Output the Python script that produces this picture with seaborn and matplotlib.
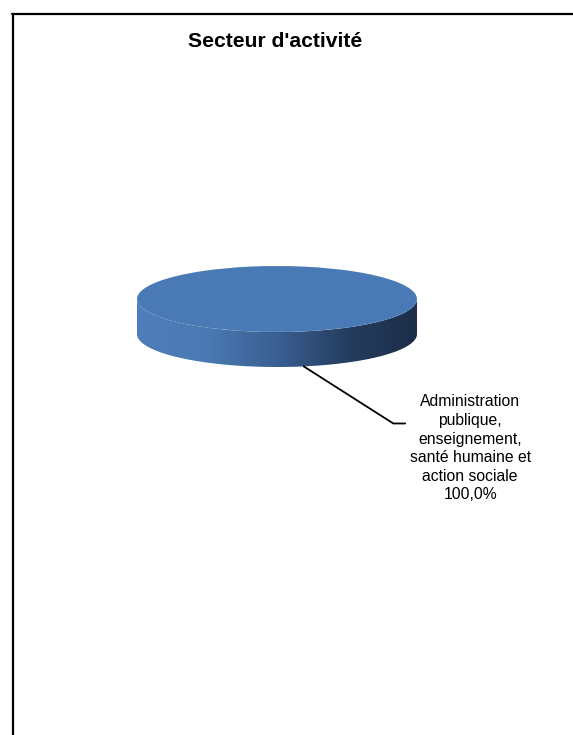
import numpy as np
import matplotlib
matplotlib.use("Agg")
import matplotlib.pyplot as plt
from matplotlib.patches import Polygon
from matplotlib.lines import Line2D
import seaborn as sns

# data
title = "Secteur d'activité"
categories = ["Administration\npublique,\nenseignement,\nsanté humaine et\naction sociale"]
values = [100.0]

sns.set_theme(style="white")
plt.rcParams["font.family"] = ["Liberation Sans", "DejaVu Sans"]

W, H = 573, 735
fig = plt.figure(figsize=(W / 100, H / 100), dpi=100)
ax = fig.add_axes([0, 0, 1, 1])

# pie geometry in pixels (squashed ellipse seen from above)
cx_px, cy_px = 277, 299
rx_px, ry_px = 140, 33
depth_px = 35
depth = depth_px / ry_px

top_color = "#4a7ab5"
side_cmap = sns.blend_palette(
    ["#4e7ebb", "#4a79b3", "#3a5f92", "#253d60", "#1c2e48"], as_cmap=True
)

# side band of the 3D pie
theta = np.linspace(np.pi, 2 * np.pi, 200)
upper = np.column_stack([np.cos(theta), np.sin(theta)])
lower = np.column_stack([np.cos(theta[::-1]), np.sin(theta[::-1]) - depth])
side = Polygon(np.vstack([upper, lower]), closed=True, facecolor="none", edgecolor="none")
ax.add_patch(side)
grad = ax.imshow(
    np.linspace(0, 1, 256)[None, :],
    extent=[-1, 1, -1 - depth, 0.2],
    cmap=side_cmap,
    aspect="auto",
    interpolation="bicubic",
    zorder=1,
)
grad.set_clip_path(side)

# top face from the data
startangle = 101
wedges, _ = ax.pie(
    values,
    colors=[top_color],
    startangle=startangle,
    radius=1,
    center=(0, 0),
    wedgeprops=dict(linewidth=0, zorder=2),
)
ax.set_aspect("auto")
ax.set_xlim(-cx_px / rx_px, (W - cx_px) / rx_px)
ax.set_ylim(-(H - cy_px) / ry_px, cy_px / ry_px)
ax.axis("off")

# label with leader line
total = sum(values)
for w, cat, v in zip(wedges, categories, values):
    mid = np.deg2rad((w.theta1 + w.theta2) / 2)
    x0, y0 = np.cos(mid), np.sin(mid) - depth
    elbow = (x0 + 0.64, y0 - 1.73)
    end = (elbow[0] + 0.085, elbow[1])
    ax.plot([x0, elbow[0], end[0]], [y0, elbow[1], end[1]], color="black", lw=1.3, zorder=3)
    ax.text(
        end[0] + 0.464, elbow[1] + 0.88,
        f"{cat}\n{v / total * 100:.1f}%".replace(".", ","),
        ha="center", va="top", fontsize=11.3, linespacing=1.3, color="black",
    )

# title
fig.text(275.5 / W, 1 - 47 / H, title, ha="center", va="baseline",
         fontsize=15.2, fontweight="bold", color="black")

# chart frame (left and top edges visible)
fig.add_artist(Line2D([12.5 / W, 12.5 / W], [0, 1 - 13.5 / H], transform=fig.transFigure,
                      color="black", lw=1.6))
fig.add_artist(Line2D([11.7 / W, 1], [1 - 13.5 / H, 1 - 13.5 / H], transform=fig.transFigure,
                      color="black", lw=1.6))

fig.savefig("out.png", dpi=100, facecolor="white")
